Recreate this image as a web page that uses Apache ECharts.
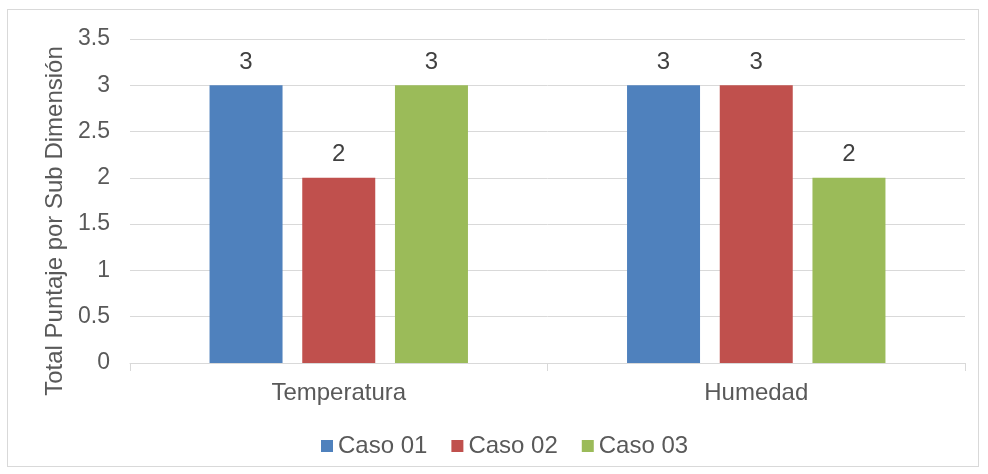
<!DOCTYPE html>
<html>
<head>
<meta charset="utf-8">
<script src="https://cdn.jsdelivr.net/npm/echarts@6/dist/echarts.min.js"></script>
<style>
  html, body { margin: 0; padding: 0; background: #fff; }
  #frame { position: absolute; left: 7px; top: 9px; width: 972px; height: 458px; border: 1px solid #d9d9d9; box-sizing: border-box; }
  #chart { position: absolute; left: 0; top: 0; width: 988px; height: 474px; }
</style>
</head>
<body>
<div id="frame"></div>
<div id="chart"></div>
<script>
// datos del gráfico
const categories = ['Temperatura', 'Humedad'];
const caso01 = [3, 3];
const caso02 = [2, 3];
const caso03 = [3, 2];
const seriesNames = ['Caso 01', 'Caso 02', 'Caso 03'];
const colors = ['#4F81BD', '#C0504D', '#9BBB59'];

const font = 'Liberation Sans, Arial, sans-serif';
const textColor = '#595959';

const chart = echarts.init(document.getElementById('chart'));
const option = {
  animation: false,
  color: colors,
  textStyle: { fontFamily: font },
  grid: { left: 130, right: 23, top: 39, bottom: 111, containLabel: false },
  legend: {
    top: 429,
    left: 316,
    itemWidth: 12,
    itemHeight: 12,
    itemGap: 24,
    icon: 'rect',
    textStyle: { fontSize: 24, color: textColor, fontFamily: font },
    data: seriesNames
  },
  xAxis: {
    type: 'category',
    data: categories,
    axisLine: { lineStyle: { color: '#d9d9d9', width: 1 } },
    axisTick: { show: true, length: 8, lineStyle: { color: '#d9d9d9' } },
    axisLabel: { fontSize: 24, color: textColor, margin: 18 }
  },
  yAxis: {
    type: 'value',
    min: 0,
    max: 3.5,
    interval: 0.5,
    name: 'Total Puntaje por Sub Dimensión',
    nameLocation: 'middle',
    nameGap: 61,
    nameTextStyle: { fontSize: 24, color: textColor, fontFamily: font, padding: [0, 40, 0, 0] },
    axisLine: { show: false },
    axisTick: { show: false },
    splitLine: { lineStyle: { color: '#d9d9d9', width: 1 } },
    axisLabel: { fontSize: 23, color: textColor, margin: 20 }
  },
  series: [caso01, caso02, caso03].map((d, i) => ({
    name: seriesNames[i],
    type: 'bar',
    data: d,
    barWidth: 73,
    barGap: '27%',
    label: { show: true, position: 'top', distance: 11, fontSize: 24, color: '#404040', fontFamily: font }
  }))
};
chart.setOption(option);
</script>
</body>
</html>
